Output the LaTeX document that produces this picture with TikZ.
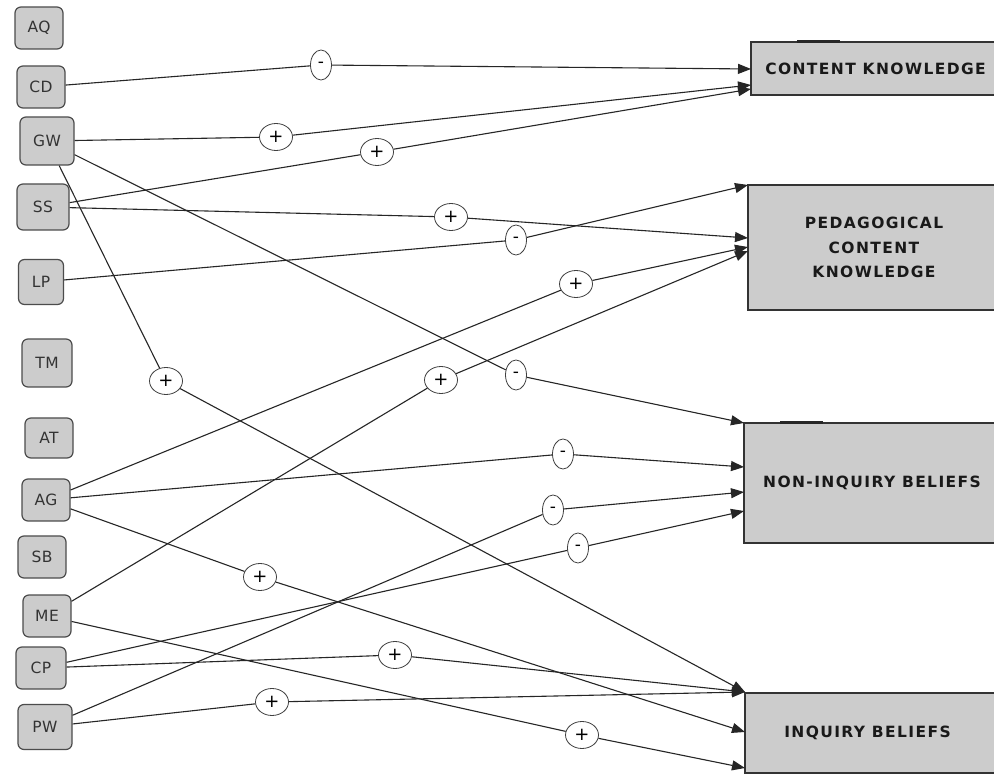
\documentclass[tikz,border=0pt]{standalone}
\usepackage{fontspec}
\setmainfont{DejaVu Sans}
\newfontfamily\boxfont{DejaVu Sans}[LetterSpace=9]
\newfontfamily\varfont{DejaVu Sans}[LetterSpace=3]
\usetikzlibrary{shapes.geometric,arrows.meta}
\tikzset{
  var/.style={draw=black!70, fill=black!20, rounded corners=6pt, line width=1.2pt,
    minimum width=48pt, minimum height=42pt, inner sep=0pt,
    font=\varfont\fontsize{15.5}{17}\selectfont, text=black!80},
  bigbox/.style={draw=black!80, fill=black!20, line width=1.8pt, inner sep=0pt,
    align=center, font=\boxfont\bfseries\fontsize{15.5}{24.5}\selectfont, text=black!90},
  sgnp/.style={ellipse, draw=black!75, fill=white, line width=0.8pt,
    minimum width=33pt, minimum height=27pt, inner sep=0pt,
    font=\fontsize{18}{18}\selectfont},
  sgnm/.style={ellipse, draw=black!75, fill=white, line width=0.8pt,
    minimum width=21pt, minimum height=30pt, inner sep=0pt,
    font=\fontsize{17}{17}\selectfont},
  link/.style={draw=black!85, line width=1.1pt, -{Triangle[length=13pt,width=10pt]}}
}
\begin{document}
\begin{tikzpicture}[x=1pt,y=-1pt]
\clip (0,0) rectangle (994,775);
\fill[white] (0,0) rectangle (994,775);
% left variables
\node[var] (AQ) at (39,28) {AQ};
\node[var] (CD) at (41,87) {CD};
\node[var, minimum width=54pt, minimum height=48pt] (GW) at (47,141) {GW};
\node[var, minimum width=52pt, minimum height=46pt] (SS) at (43,207) {SS};
\node[var, minimum width=45pt, minimum height=45pt] (LP) at (41,282) {LP};
\node[var, minimum width=50pt, minimum height=48pt] (TM) at (47,363) {TM};
\node[var, minimum height=40pt] (AT) at (49,438) {AT};
\node[var] (AG) at (46,500) {AG};
\node[var] (SB) at (42,557) {SB};
\node[var] (ME) at (47,616) {ME};
\node[var, minimum width=50pt] (CP) at (41,668) {CP};
\node[var, minimum width=54pt, minimum height=45pt] (PW) at (45,727) {PW};
% right boxes
\node[bigbox, minimum width=249pt, minimum height=53pt] (CK) at (875.5,68.5) {CONTENT KNOWLEDGE};
\node[bigbox, minimum width=252pt, minimum height=125pt] (PCK) at (874,247.5) {PEDAGOGICAL\\CONTENT\\KNOWLEDGE};
\node[bigbox, minimum width=256pt, minimum height=120pt] (NIB) at (872,483) {NON-INQUIRY BELIEFS};
\node[bigbox, minimum width=255pt, minimum height=80pt] (IB) at (872.5,733) {\hspace*{-10pt}INQUIRY BELIEFS};
\draw[line width=3pt, black!85] (797,42) -- (840,42);
\draw[line width=3pt, black!85] (780,423) -- (823,423);
% arrow end points on the boxes
\coordinate (ck1) at (751,69);
\coordinate (ck2) at (751,85);
\coordinate (ck3) at (751,89);
\coordinate (pck0) at (748,185);
\coordinate (pck1) at (748,238);
\coordinate (pck2) at (748,247);
\coordinate (pck3) at (748,251);
\coordinate (nib0) at (744,423);
\coordinate (nib1) at (744,467);
\coordinate (nib2) at (744,492);
\coordinate (nib3) at (744,511);
\coordinate (ib0) at (745,692);
\coordinate (ib1) at (745,732);
\coordinate (ib2) at (745,768);
% polarity labels
\node[sgnm] (l1) at (321,65) {-};
\node[sgnp] (l2) at (276,137) {+};
\node[sgnp] (l3) at (377,152) {+};
\node[sgnp] (l4) at (451,217) {+};
\node[sgnm] (l5) at (516,240) {-};
\node[sgnp] (l6) at (576,284) {+};
\node[sgnp] (l7) at (441,380) {+};
\node[sgnm] (l8) at (516,375) {-};
\node[sgnp] (l9) at (166,381) {+};
\node[sgnm] (l10) at (563,454) {-};
\node[sgnm] (l11) at (553,510) {-};
\node[sgnm] (l12) at (578,548) {-};
\node[sgnp] (l13) at (260,577) {+};
\node[sgnp] (l14) at (395,655) {+};
\node[sgnp] (l15) at (272,702) {+};
\node[sgnp] (l16) at (582,735) {+};
% links
\draw[link] (CD) -- (l1) -- (ck1);
\draw[link] (GW) -- (l2) -- (ck2);
\draw[link] (SS) -- (l3) -- (ck3);
\draw[link] (SS) -- (l4) -- (pck1);
\draw[link] (LP) -- (l5) -- (pck0);
\draw[link] (AG) -- (l6) -- (pck2);
\draw[link] (ME) -- (l7) -- (pck3);
\draw[link] (GW) -- (l8) -- (nib0);
\draw[link] (GW) -- (l9) -- (ib0);
\draw[link] (AG) -- (l10) -- (nib1);
\draw[link] (PW) -- (l11) -- (nib2);
\draw[link] (CP) -- (l12) -- (nib3);
\draw[link] (AG) -- (l13) -- (ib1);
\draw[link] (CP) -- (l14) -- (ib0);
\draw[link] (PW) -- (l15) -- (ib0);
\draw[link] (ME) -- (l16) -- (ib2);
\end{tikzpicture}
\end{document}
